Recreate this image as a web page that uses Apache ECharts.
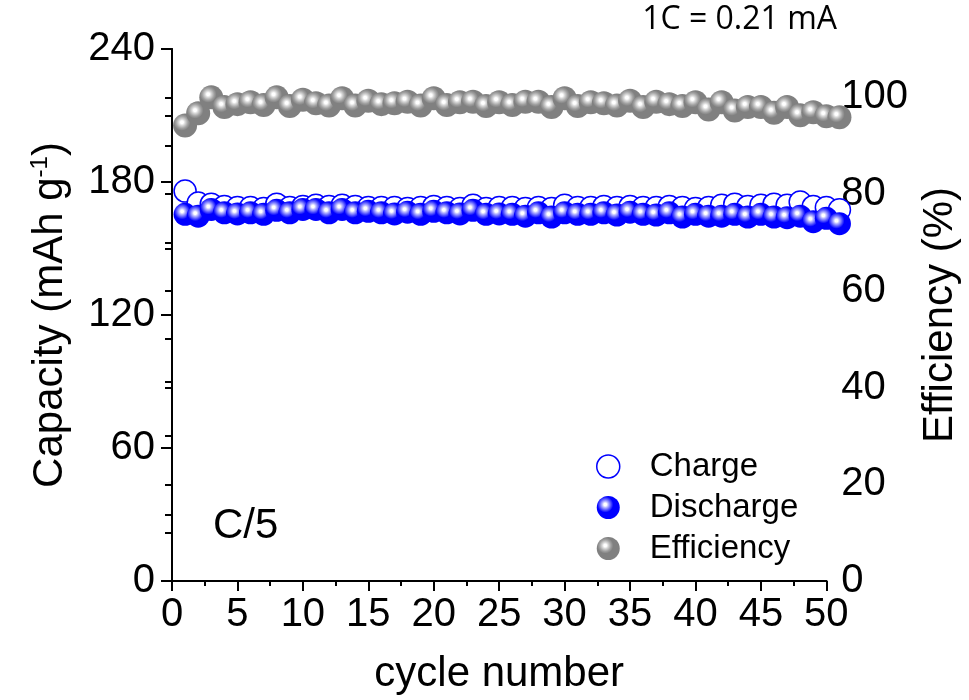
<!DOCTYPE html>
<html lang="en">
<head>
    <meta charset="UTF-8">
    <script type="text/javascript" src="https://cdn.jsdelivr.net/npm/echarts@6/dist/echarts.min.js"></script>
    <title>Capacity</title>
    <style type="text/css">
        html, body { margin: 0; padding: 0; background: #fff; overflow: hidden; }
        #chart { width: 969px; height: 700px; }
    </style>
</head>
<body>
<div id="chart"></div>
<script type="text/javascript">
    const cycles = [1, 2, 3, 4, 5, 6, 7, 8, 9, 10, 11, 12, 13, 14, 15, 16, 17, 18, 19, 20,
        21, 22, 23, 24, 25, 26, 27, 28, 29, 30, 31, 32, 33, 34, 35, 36, 37, 38, 39, 40,
        41, 42, 43, 44, 45, 46, 47, 48, 49, 50, 51];
    const charge = [175.9, 170.5, 170.0, 169.0, 168.5, 168.5, 168.0, 170.0, 168.5, 169.0,
        169.5, 169.0, 169.5, 169.0, 168.5, 168.5, 168.5, 168.0, 168.5, 169.0,
        168.5, 168.0, 169.5, 168.0, 168.5, 168.5, 168.0, 168.5, 168.0, 169.5,
        168.5, 168.5, 169.0, 168.5, 169.0, 168.5, 168.5, 169.0, 168.5, 168.0,
        168.5, 169.5, 170.0, 169.0, 169.5, 170.0, 169.5, 171.0, 169.0, 168.5, 167.5];
    const discharge = [165.4, 164.6, 167.6, 166.1, 165.6, 166.1, 165.4, 167.2, 166.1, 167.6,
        167.6, 166.1, 167.6, 166.1, 166.8, 166.1, 165.6, 166.4, 165.4, 166.8,
        166.1, 165.6, 167.2, 165.4, 165.6, 165.4, 164.6, 166.1, 164.2, 166.1,
        165.4, 165.4, 166.1, 165.1, 166.4, 165.4, 165.1, 166.1, 164.2, 165.4,
        164.6, 164.6, 165.4, 164.2, 165.4, 164.2, 163.9, 164.6, 162.1, 163.6, 161.2];
    const efficiency = [94.2, 96.7, 100.0, 98.0, 98.6, 99.0, 98.4, 100.0, 98.2, 99.5,
        98.8, 98.3, 99.8, 98.3, 99.3, 98.6, 98.8, 99.1, 98.3, 99.8,
        98.4, 99.0, 99.1, 98.2, 99.0, 98.4, 99.1, 99.1, 98.0, 99.8,
        98.2, 99.0, 98.8, 98.3, 99.3, 98.0, 99.1, 98.6, 98.2, 99.0,
        97.5, 99.0, 97.3, 98.0, 98.0, 96.8, 98.0, 96.3, 96.9, 96.1, 95.9];
    const seriesNames = ['Charge', 'Discharge', 'Efficiency'];

    const font = 'Liberation Sans, Arial, sans-serif';

    // shaded ball: small white spot up-left, then solid colour
    function sphere(edge, mid, light) {
        return {
            type: 'radial', x: 0.37, y: 0.37, r: 0.6,
            colorStops: [
                {offset: 0, color: '#ffffff'},
                {offset: 0.1, color: '#ffffff'},
                {offset: 0.22, color: light},
                {offset: 0.42, color: mid},
                {offset: 0.58, color: edge},
                {offset: 1, color: edge}
            ]
        };
    }

    const blueBall = sphere('#0000ff', '#5050ff', '#b8b8ff');
    const grayBall = sphere('#808080', '#a0a0a0', '#d8d8d8');

    function pairs(ys) {
        return cycles.map((c, i) => [c, ys[i]]);
    }

    let chart = echarts.init(document.getElementById('chart'), null, {width: 969, height: 700});
    let option = {
        animation: false,
        backgroundColor: '#fff',
        grid: {left: 172, right: 127, top: 49, bottom: 113, containLabel: false},
        legend: {
            orient: 'vertical',
            left: 591,
            top: 445,
            itemWidth: 23,
            itemHeight: 23,
            itemGap: 8,
            textStyle: {fontFamily: font, fontSize: 33, color: '#000', padding: [0, 0, 0, 25]},
            data: [
                {name: seriesNames[0], icon: 'circle', itemStyle: {color: '#fff', borderColor: '#0000ff', borderWidth: 1.5}},
                {name: seriesNames[1], icon: 'circle', itemStyle: {color: blueBall}},
                {name: seriesNames[2], icon: 'circle', itemStyle: {color: grayBall}}
            ]
        },
        xAxis: [{
            type: 'value', min: 0, max: 50, interval: 5,
            name: 'cycle number', nameLocation: 'middle', nameGap: 72,
            nameTextStyle: {fontFamily: font, fontSize: 42, color: '#000'},
            axisLine: {lineStyle: {color: '#000', width: 2}},
            axisTick: {inside: false, length: 10, lineStyle: {color: '#000', width: 2}},
            minorTick: {show: true, splitNumber: 2, length: 5, lineStyle: {color: '#000', width: 2}},
            axisLabel: {fontFamily: font, fontSize: 40, color: '#000', margin: 14},
            splitLine: {show: false}
        }, {
            type: 'value', min: 0, max: 50, interval: 2.5, position: 'top',
            axisLine: {lineStyle: {color: '#000', width: 2}},
            axisTick: {inside: true, length: 4, lineStyle: {color: '#000', width: 1.5}},
            axisLabel: {show: false},
            splitLine: {show: false}
        }],
        yAxis: [{
            type: 'value', min: 0, max: 240, interval: 60,
            name: 'Capacity (mAh g{sup|-1})', nameLocation: 'middle', nameGap: 100, nameRotate: 90,
            nameTextStyle: {
                fontFamily: font, fontSize: 42, color: '#000',
                rich: {sup: {fontFamily: font, fontSize: 24, color: '#000', verticalAlign: 'top', padding: [0, 0, 20, 0]}}
            },
            axisLine: {lineStyle: {color: '#000', width: 2}},
            axisTick: {inside: false, length: 11, lineStyle: {color: '#000', width: 2}},
            minorTick: {show: true, splitNumber: 2, length: 7, lineStyle: {color: '#000', width: 2}},
            axisLabel: {fontFamily: font, fontSize: 40, color: '#000', margin: 17},
            splitLine: {show: false}
        }, {
            type: 'value', min: 0, max: 110, interval: 10, position: 'right',
            name: 'Efficiency (%)', nameLocation: 'middle', nameGap: 74, nameRotate: 90,
            nameTextStyle: {fontFamily: font, fontSize: 42, color: '#000'},
            axisLine: {lineStyle: {color: '#000', width: 2}},
            axisTick: {inside: true, length: 7, lineStyle: {color: '#000', width: 2}},
            axisLabel: {
                fontFamily: font, fontSize: 40, color: '#000', margin: 15,
                formatter: v => (v % 20 === 0 && v <= 100) ? String(v) : ''
            },
            splitLine: {show: false}
        }],
        graphic: [
            {type: 'text', left: 213, top: 505, style: {text: 'C/5', font: '42px ' + font, fill: '#000'}},
            {type: 'text', right: 132, top: 4, style: {text: '1C = 0.21 mA', font: '32px "Open Sans", sans-serif', fill: '#000'}}
        ],
        series: [{
            name: seriesNames[2], type: 'scatter', yAxisIndex: 1, clip: false,
            symbol: 'circle', symbolSize: 24,
            itemStyle: {color: grayBall, opacity: 1},
            data: pairs(efficiency)
        }, {
            name: seriesNames[0], type: 'scatter', yAxisIndex: 0, clip: false,
            symbol: 'circle', symbolSize: 22,
            itemStyle: {color: '#fff', borderColor: '#0000ff', borderWidth: 1.5, opacity: 1},
            data: pairs(charge)
        }, {
            name: seriesNames[1], type: 'scatter', yAxisIndex: 0, clip: false,
            symbol: 'circle', symbolSize: 23,
            itemStyle: {color: blueBall, opacity: 1},
            data: pairs(discharge)
        }]
    };
    chart.setOption(option);
</script>
</body>
</html>
